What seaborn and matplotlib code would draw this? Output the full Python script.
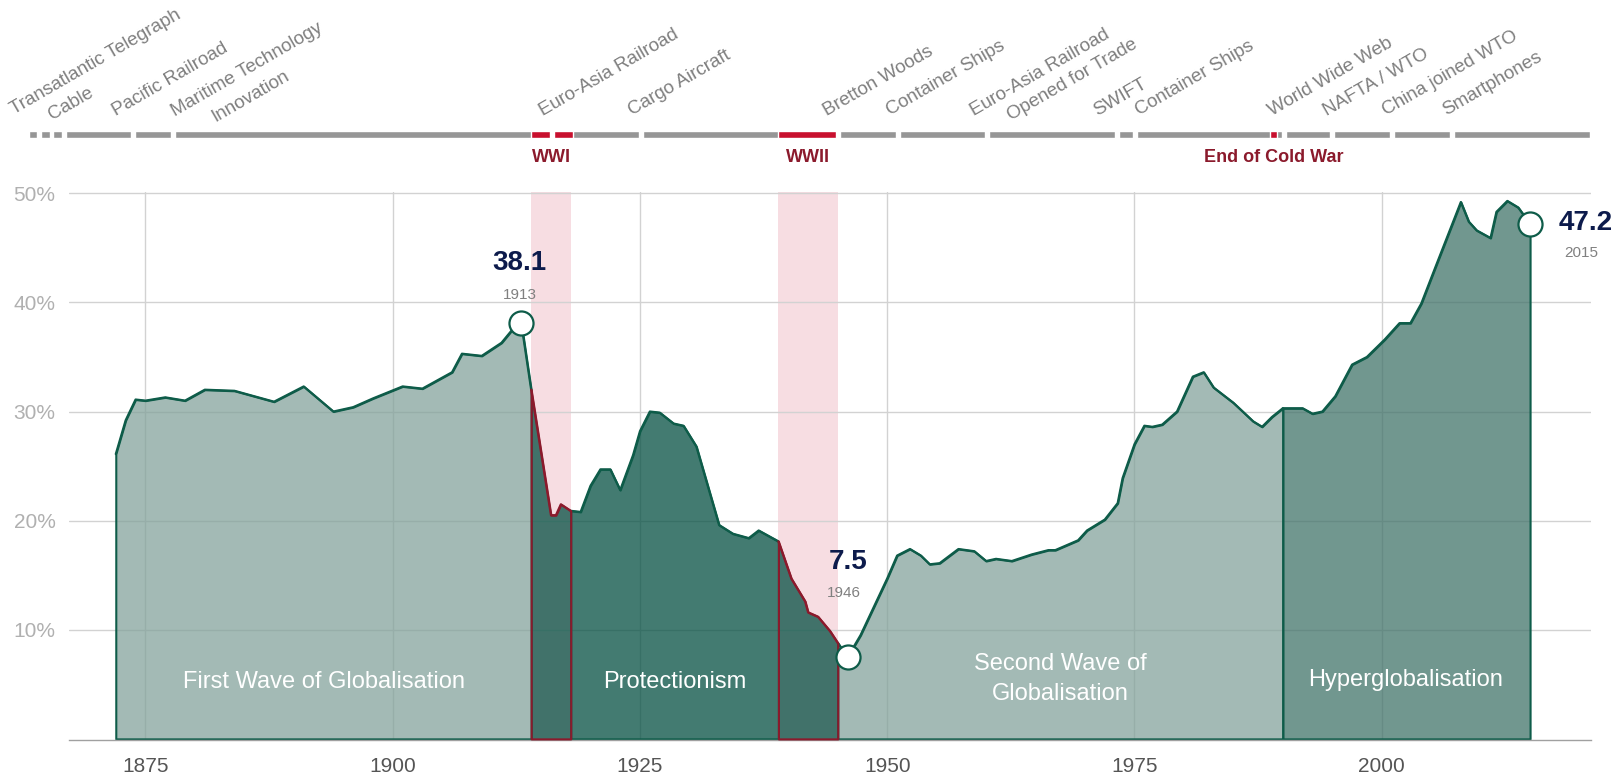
import matplotlib
matplotlib.use("Agg")
import matplotlib.pyplot as plt
import matplotlib.colors as mcolors
import pandas as pd
import seaborn as sns

# ---- data: trade openness, % of world GDP ----
first_years = [1872, 1873, 1874, 1875, 1877, 1879, 1881, 1884, 1888, 1891, 1894, 1896,
               1898, 1901, 1903, 1906, 1907, 1909, 1911, 1912, 1913, 1914]
first_share = [26.1, 29.2, 31.1, 31.0, 31.3, 31.0, 32.0, 31.9, 30.9, 32.3, 30.0, 30.4,
               31.2, 32.3, 32.1, 33.6, 35.3, 35.1, 36.3, 37.4, 38.1, 32.0]

wwi_years = [1914, 1916, 1916.5, 1917, 1918]
wwi_share = [32.0, 20.5, 20.5, 21.5, 20.9]

prot_years = [1918, 1919, 1920, 1921, 1922, 1923, 1924.3, 1925, 1926, 1927, 1928.4,
              1929.4, 1930.7, 1933, 1934.4, 1936, 1937, 1939]
prot_share = [20.9, 20.8, 23.2, 24.7, 24.7, 22.8, 26.0, 28.2, 30.0, 29.9, 28.9,
              28.7, 26.8, 19.6, 18.8, 18.4, 19.1, 18.1]

wwii_years = [1939, 1940.3, 1941.7, 1942, 1943, 1944.2, 1945]
wwii_share = [18.1, 14.7, 12.6, 11.6, 11.2, 9.9, 8.8]

second_years = [1945, 1946, 1947.3, 1950, 1951, 1952.3, 1953.4, 1954.3, 1955.3, 1957.2,
                1958.8, 1960, 1961, 1962.6, 1964.6, 1966.3, 1967, 1969.3, 1970.2, 1972,
                1973.3, 1973.8, 1975, 1976, 1976.8, 1977.8, 1979.3, 1980.9, 1982, 1983,
                1985, 1987, 1987.9, 1988.9, 1990]
second_share = [8.8, 7.5, 9.5, 14.7, 16.8, 17.4, 16.8, 16.0, 16.1, 17.4,
                17.2, 16.3, 16.5, 16.3, 16.9, 17.3, 17.3, 18.2, 19.1, 20.1,
                21.6, 23.9, 27.0, 28.7, 28.6, 28.8, 30.0, 33.2, 33.6, 32.2,
                30.8, 29.1, 28.6, 29.5, 30.3]

hyper_years = [1990, 1992, 1993, 1994, 1995.3, 1997, 1998.5, 2000.3, 2001.8, 2002.9, 2004,
               2005.5, 2008, 2008.8, 2009.6, 2011, 2011.6, 2012.7, 2013.8, 2015]
hyper_share = [30.3, 30.3, 29.8, 30.0, 31.4, 34.3, 35.0, 36.6, 38.1, 38.1, 39.9,
               43.4, 49.2, 47.4, 46.6, 45.9, 48.3, 49.3, 48.7, 47.2]

period_names = ['First Wave of Globalisation', 'Second Wave of\nGlobalisation',
                'Protectionism', 'Hyperglobalisation', 'WWI', 'WWII']

highlight_years = [1913, 1946, 2015]
highlight_share = [38.1, 7.5, 47.2]

war_spans = [(1914, 1918), (1939, 1945)]

# timeline strip on top
bar_start, bar_end = 1863.2, 2021.1
bar_red = [(1914, 1918.2), (1939, 1945), (1988.7, 1989.4)]
bar_red_labels = ['WWI', 'WWII', 'End of Cold War']
event_gaps = [1864.2, 1865.5, 1866.8, 1873.7, 1877.8, 1916.1, 1925.1, 1945.0, 1951.1,
              1960.1, 1973.2, 1975.05, 1990.1, 1994.95, 2001.05, 2007.15]
event_lines = ['Transatlantic Telegraph', 'Cable', 'Pacific Railroad', 'Maritime Technology',
               'Innovation', 'Euro-Asia Railroad', 'Cargo Aircraft', 'Bretton Woods',
               'Container Ships', 'Euro-Asia Railroad', 'Opened for Trade', 'SWIFT',
               'Container Ships', 'World Wide Web', 'NAFTA / WTO', 'China joined WTO',
               'Smartphones']
# layout of the rotated labels: start year and baseline (px from top)
event_x = [1861.7, 1865.6, 1872.0, 1878.0, 1882.05, 1915.2, 1924.2, 1943.9, 1950.3,
           1958.8, 1962.5, 1971.2, 1975.45, 1988.9, 1994.5, 2000.45, 2006.55]
event_y = [114.5, 119.5, 116.5, 116.5, 121.5, 116.5, 116, 116.5, 116, 116.5, 121, 116,
           116, 116, 116.5, 116, 116]

xticks = [1875, 1900, 1925, 1950, 1975, 2000]
yticks = [10, 20, 30, 40, 50]

# ---- styling ----
W, H = 1617, 775
sns.set_theme(style='white')
plt.rcParams['font.family'] = ['Liberation Sans', 'DejaVu Sans']

GREEN = '#0e5c49'
RED_LINE = '#8b1a2c'
LIGHT = '#84a39c'
DARK = '#044f42'
MID = '#42746a'
styles = {
    'First Wave of Globalisation': (LIGHT, GREEN, 2),
    'Second Wave of\nGlobalisation': (LIGHT, GREEN, 2),
    'Protectionism': (DARK, GREEN, 2.2),
    'Hyperglobalisation': (MID, GREEN, 2.2),
    'WWI': (DARK, RED_LINE, 3),
    'WWII': (DARK, RED_LINE, 3),
}

series = [first_years, second_years, prot_years, hyper_years, wwi_years, wwii_years]
values = [first_share, second_share, prot_share, hyper_share, wwi_share, wwii_share]
df = pd.concat([pd.DataFrame({'year': y, 'share': s, 'period': n})
                for n, y, s in zip(period_names, series, values)], ignore_index=True)

# pixel box of the plot area
x0, x1 = 69.3, 1590.7
y_top, y_bot = 192.2, 740.2
XLIM = (1867.3, 2021.13)

fig = plt.figure(figsize=(W / 100, H / 100), dpi=100)
ax = fig.add_axes([x0 / W, 1 - y_bot / H, (x1 - x0) / W, (y_bot - y_top) / H])
ax.set_xlim(*XLIM)
ax.set_ylim(-0.12, 50.1)

for a, b in war_spans:
    ax.axvspan(a, b, color='#f7dde2', lw=0, zorder=0.2)

ax.set_axisbelow(True)
ax.grid(True, color='#d2d2d2', lw=1)

for name, g in df.groupby('period', sort=False):
    face, edge, z = styles[name]
    ax.fill_between(g['year'], g['share'], 0, facecolor=mcolors.to_rgba(face, 0.75),
                    edgecolor=edge, lw=1.5, zorder=z)
    sns.lineplot(data=g, x='year', y='share', color=edge, lw=1.6, ax=ax,
                 estimator=None, legend=False, zorder=z + 0.05)

sns.scatterplot(x=highlight_years, y=highlight_share, s=300, color='white',
                edgecolor=GREEN, linewidth=1.6, zorder=6, ax=ax, legend=False)

# region labels (y = baseline of the last line)
region_pos = {'First Wave of Globalisation': (1893.1, 4.65),
              'Protectionism': (1928.5, 4.7),
              'Second Wave of\nGlobalisation': (1967.55, 3.6),
              'Hyperglobalisation': (2002.4, 4.85)}
for name, (xx, yy) in region_pos.items():
    ax.text(xx, yy, name, ha='center', va='baseline', color='white', fontsize=17,
            linespacing=1.45, zorder=7)

# highlighted values
offsets = [((-1, 38), (-1.2, 17.7)), ((0, 63.4), (-3, 43)), ((39.7, -4.3), (37.1, -24))]
for yr, val, (o_val, o_yr) in zip(highlight_years, highlight_share, offsets):
    ax.annotate(f'{val:.1f}', xy=(yr, val), xytext=o_val, textcoords='offset points',
                ha='center', va='baseline', fontsize=20, fontweight='bold',
                color='#0d1b4c', zorder=8, annotation_clip=False)
    ax.annotate(str(yr), xy=(yr, val), xytext=o_yr, textcoords='offset points',
                ha='center', va='baseline', fontsize=11, color='#808080',
                zorder=8, annotation_clip=False)

ax.set_xticks(xticks)
ax.set_yticks(yticks)
ax.set_yticklabels([f'{v}%' for v in yticks])
ax.tick_params(axis='x', length=0, pad=12, labelsize=15, labelcolor='#555555')
ax.tick_params(axis='y', length=0, pad=10, labelsize=15, labelcolor='#b0b0b0')
ax.set_xlabel('')
ax.set_ylabel('')
for side in ['top', 'right', 'left']:
    ax.spines[side].set_visible(False)
ax.spines['bottom'].set_color('#a0a0a0')
ax.spines['bottom'].set_linewidth(1)

# ---- timeline strip ----
top = fig.add_axes([x0 / W, 1 - 185 / H, (x1 - x0) / W, 185 / H])
top.set_xlim(*XLIM)
top.set_ylim(185, 0)
top.axis('off')

top.broken_barh([(bar_start, bar_end - bar_start)], (130.5, 7.7),
                facecolors='#969696', clip_on=False)
top.broken_barh([(a, b - a) for a, b in bar_red], (130.5, 7.7),
                facecolors='#c8102e', clip_on=False)
top.broken_barh([(gx - 0.2, 0.4) for gx in event_gaps], (129.5, 9.7),
                facecolors='white', clip_on=False)

for (a, b), lab in zip(bar_red, bar_red_labels):
    top.text((a + b) / 2, 157, lab, ha='center', va='center', fontsize=13,
             fontweight='bold', color='#8b1a2c')

for txt, ex, ey in zip(event_lines, event_x, event_y):
    top.text(ex, ey, txt, rotation=30, rotation_mode='anchor', ha='left',
             va='baseline', fontsize=13.6, color='#7f7f7f', clip_on=False)

fig.savefig('out.png', dpi=100)
